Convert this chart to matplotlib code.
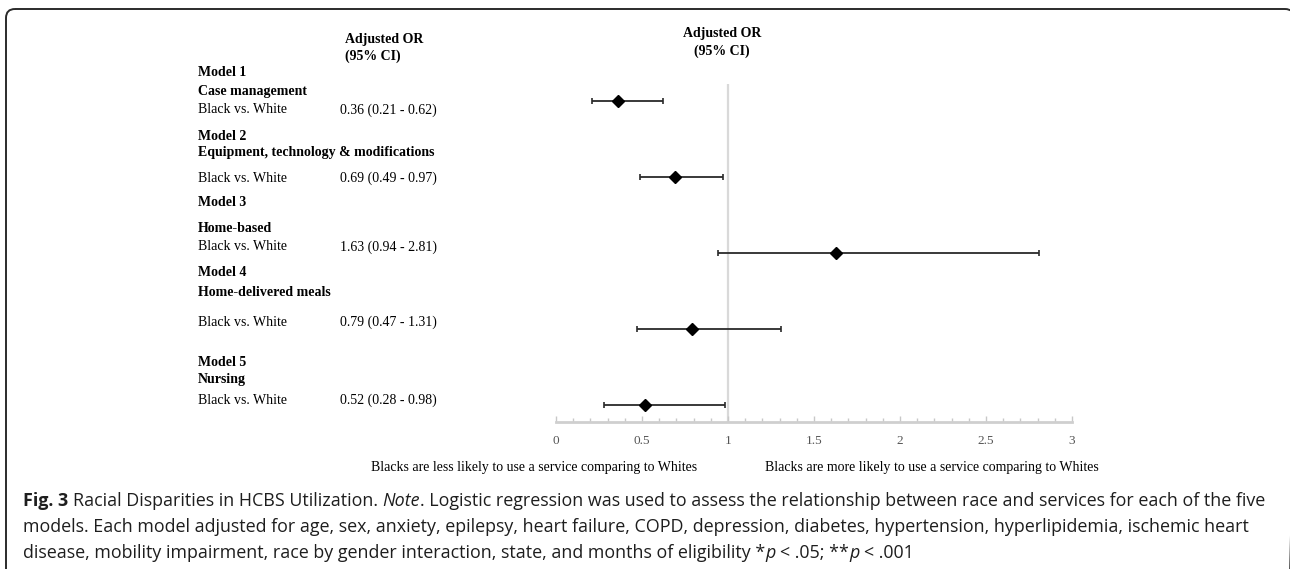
import matplotlib
matplotlib.use("Agg")
import numpy as np
import matplotlib.pyplot as plt
from matplotlib import font_manager
from matplotlib.patches import FancyBboxPatch
from matplotlib.ticker import MultipleLocator

# data
models = ["Model 1", "Model 2", "Model 3", "Model 4", "Model 5"]
services = ["Case management", "Equipment, technology & modifications",
            "Home-based", "Home-delivered meals", "Nursing"]
comparison = "Black vs. White"
odds = [0.36, 0.69, 1.63, 0.79, 0.52]
ci_low = [0.21, 0.49, 0.94, 0.47, 0.28]
ci_high = [0.62, 0.97, 2.81, 1.31, 0.98]
or_labels = ["0.36 (0.21 - 0.62)", "0.69 (0.49 - 0.97)", "1.63 (0.94 - 2.81)",
             "0.79 (0.47 - 1.31)", "0.52 (0.28 - 0.98)"]
x_ticks = [0, 0.5, 1, 1.5, 2, 2.5, 3]

W, H = 1290, 569
fig = plt.figure(figsize=(W / 100, H / 100), dpi=100)
fig.patch.set_facecolor("white")

def fx(px):
    return px / W

def fy(py):
    return 1 - py / H

serif = "Liberation Serif"
names = {f.name for f in font_manager.fontManager.ttflist}
cap_font = "Liberation Sans Narrow" if "Liberation Sans Narrow" in names else "Open Sans"

# frame: overlay axes in pixel units, rounded box running off right/bottom
bg = fig.add_axes([0, 0, 1, 1])
bg.set_xlim(0, W)
bg.set_ylim(H, 0)
bg.axis("off")
frame = FancyBboxPatch((6, 9), 1294 - 6, 640, boxstyle="round,pad=0,rounding_size=9",
                       facecolor="none", edgecolor="#2b2b2b", linewidth=1.4,
                       clip_on=False)
bg.add_patch(frame)

# forest plot axes
ax = fig.add_axes([fx(556), fy(422), fx(1072) - fx(556), (422 - 84) / H])
rows = np.arange(len(odds))
row_px = 76.0
ax.set_ylim((422 - 101) / row_px, (84 - 101) / row_px)
ax.set_xlim(0, 3)

ax.axvline(1, color="#d9d9d9", lw=1.6, zorder=1)
err = [np.array(odds) - np.array(ci_low), np.array(ci_high) - np.array(odds)]
ax.errorbar(odds, rows, xerr=err, fmt="D", color="black", ecolor="#2a2a2a",
            ms=6, elinewidth=1.3, capsize=2.2, capthick=1.2, zorder=3)

for s in ["top", "left", "right"]:
    ax.spines[s].set_visible(False)
ax.spines["bottom"].set_color("#cfcfcf")
ax.spines["bottom"].set_linewidth(2)
ax.set_yticks([])
ax.set_xticks(x_ticks)
ax.set_xticklabels([f"{t:g}" for t in x_ticks])
ax.xaxis.set_minor_locator(MultipleLocator(0.1))
ax.tick_params(axis="x", which="both", direction="in", colors="#c8c8c8", width=1)
ax.tick_params(axis="x", which="major", length=4, pad=9, labelcolor="#555555",
               labelsize=9.5)
ax.tick_params(axis="x", which="minor", length=3)
for lab in ax.get_xticklabels():
    lab.set_fontfamily(serif)
ax.patch.set_alpha(0)

# headers
fig.text(fx(722), fy(33), "Adjusted OR", ha="center", va="center",
         family=serif, weight="bold", fontsize=10)
fig.text(fx(722), fy(51), "(95% CI)", ha="center", va="center",
         family=serif, weight="bold", fontsize=10)
fig.text(fx(345), fy(40), "Adjusted OR", ha="left", va="center",
         family=serif, weight="bold", fontsize=10)
fig.text(fx(345), fy(56), "(95% CI)", ha="left", va="center",
         family=serif, weight="bold", fontsize=10)

# left table text
model_y = [73, 137, 203, 273, 362]
service_y = [92, 153, 229, 293, 380]
row_y = [110, 178, 247, 322, 400]
for i in range(len(models)):
    fig.text(fx(198), fy(model_y[i]), models[i], family=serif, weight="bold",
             fontsize=10, va="center")
    fig.text(fx(198), fy(service_y[i]), services[i], family=serif, weight="bold",
             fontsize=10, va="center")
    fig.text(fx(198), fy(row_y[i]), comparison, family=serif, fontsize=10,
             va="center")
    fig.text(fx(340), fy(row_y[i]), or_labels[i], family=serif, fontsize=10,
             va="center")

# direction labels
fig.text(fx(697), fy(468), "Blacks are less likely to use a service comparing to Whites",
         ha="right", va="center", family=serif, fontsize=10)
fig.text(fx(765), fy(468), "Blacks are more likely to use a service comparing to Whites",
         ha="left", va="center", family=serif, fontsize=10)

# caption with mixed styles
cap_lines = [
    [("Fig. 3", "bold", "normal"),
     ("Racial Disparities in HCBS Utilization.", "normal", "normal"),
     ("Note", "normal", "italic"),
     (". Logistic regression was used to assess the relationship between race and services for each of the five", "normal", "normal")],
    [("models. Each model adjusted for age, sex, anxiety, epilepsy, heart failure, COPD, depression, diabetes, hypertension, hyperlipidemia, ischemic heart", "normal", "normal")],
    [("disease, mobility impairment, race by gender interaction, state, and months of eligibility *", "normal", "normal"),
     ("p", "normal", "italic"),
     ("< .05; **", "normal", "normal"),
     ("p", "normal", "italic"),
     ("< .001", "normal", "normal")],
]
# which joins need a space before the segment
cap_gaps = [[0, 1, 1, 0], [0], [0, 0, 1, 0, 1]]
cap_y = [501, 527, 553]

renderer = fig.canvas.get_renderer()

def seg_width(txt, weight, style, size):
    t = fig.text(0, 0, txt, family=cap_font, weight=weight, style=style, fontsize=size)
    w = t.get_window_extent(renderer).width
    t.remove()
    return w

def line_width(segs, gaps, size):
    sp = seg_width("a a", "normal", "normal", size) - seg_width("aa", "normal", "normal", size)
    return sum(seg_width(*s, size) for s in segs) + sp * sum(gaps)

base = 10
scale = (1269 - 23) / line_width(cap_lines[0], cap_gaps[0], base)
cap_size = base * scale

sp_w = seg_width("a a", "normal", "normal", cap_size) - seg_width("aa", "normal", "normal", cap_size)
for segs, gaps, yy in zip(cap_lines, cap_gaps, cap_y):
    x = 23.0
    for (txt, weight, style), g in zip(segs, gaps):
        x += g * sp_w
        t = fig.text(fx(x), fy(yy), txt, family=cap_font, weight=weight,
                     style=style, fontsize=cap_size, va="center", color="#1e1e1e")
        x += t.get_window_extent(renderer).width

fig.savefig("out.png", dpi=100)
